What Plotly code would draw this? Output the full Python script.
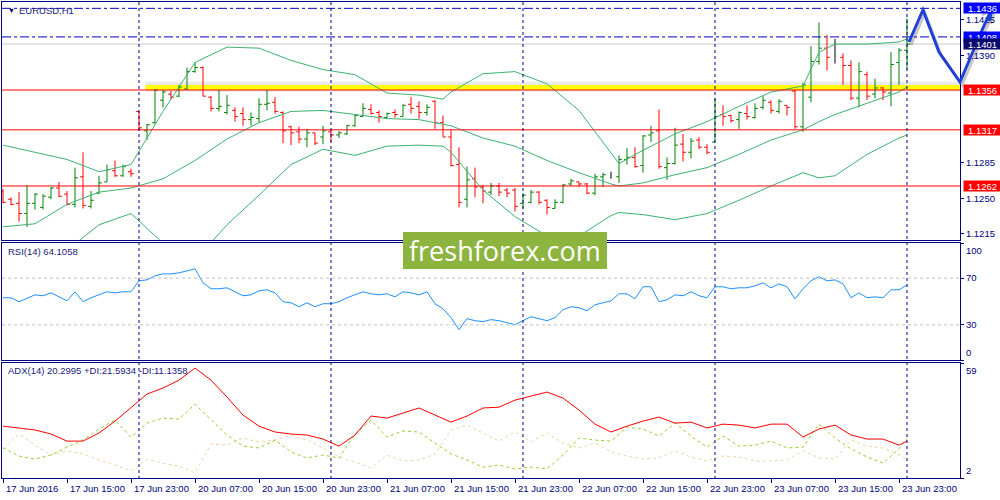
import plotly.graph_objects as go

# EURUSD H1 -- bar 0 is 17 Jun 2016 07:00, last bar is 24 Jun 00:00
opens = [1.1257, 1.1249, 1.1245, 1.1235, 1.1245, 1.1241, 1.1251, 1.1260, 1.1254, 1.1244,
         1.1271, 1.1242, 1.1255, 1.1266, 1.1277, 1.1272, 1.1276, 1.1335, 1.1316, 1.1324,
         1.1346, 1.1352, 1.1350, 1.1357, 1.1374, 1.1378, 1.1349, 1.1338, 1.1334, 1.1336,
         1.1333, 1.1327, 1.1328, 1.1342, 1.1344, 1.1334, 1.1320, 1.1315, 1.1308, 1.1314,
         1.1310, 1.1315, 1.1312, 1.1313, 1.1321, 1.1330, 1.1337, 1.1334, 1.1329, 1.1334,
         1.1330, 1.1342, 1.1340, 1.1334, 1.1345, 1.1324, 1.1310, 1.1283, 1.1249, 1.1269,
         1.1261, 1.1256, 1.1262, 1.1258, 1.1258, 1.1245, 1.1246, 1.1256, 1.1248, 1.1240,
         1.1246, 1.1264, 1.1266, 1.1264, 1.1255, 1.1271, 1.1272, 1.1271, 1.1288, 1.1290,
         1.1282, 1.1312, 1.1316, 1.1280, 1.1284, 1.1303, 1.1295, 1.1307, 1.1300, 1.1305,
         1.1332, 1.1331, 1.1327, 1.1333, 1.1329, 1.1339, 1.1344, 1.1335, 1.1341, 1.1355,
         1.1320, 1.1349, 1.1384, 1.1397, 1.1390, 1.1388, 1.1380, 1.1348, 1.1371, 1.1352,
         1.1358, 1.1353, 1.1383, 1.1395]
highs = [1.1259, 1.1251, 1.1256, 1.1263, 1.1255, 1.1254, 1.1261, 1.1266, 1.1257, 1.1280,
         1.1295, 1.1257, 1.1272, 1.1283, 1.1287, 1.1283, 1.1279, 1.1335, 1.1323, 1.1357,
         1.1356, 1.1355, 1.1361, 1.1378, 1.1383, 1.1379, 1.1350, 1.1356, 1.1351, 1.1339,
         1.1339, 1.1334, 1.1348, 1.1356, 1.1349, 1.1335, 1.1321, 1.1320, 1.1318, 1.1314,
         1.1321, 1.1317, 1.1316, 1.1322, 1.1332, 1.1343, 1.1342, 1.1336, 1.1334, 1.1337,
         1.1342, 1.1349, 1.1345, 1.1342, 1.1346, 1.1331, 1.1317, 1.1300, 1.1281, 1.1280,
         1.1263, 1.1265, 1.1265, 1.1260, 1.1260, 1.1255, 1.1258, 1.1257, 1.1249, 1.1249,
         1.1264, 1.1269, 1.1266, 1.1265, 1.1274, 1.1275, 1.1276, 1.1292, 1.1299, 1.1300,
         1.1312, 1.1321, 1.1337, 1.1290, 1.1319, 1.1313, 1.1309, 1.1310, 1.1303, 1.1348,
         1.1341, 1.1332, 1.1335, 1.1341, 1.1343, 1.1350, 1.1346, 1.1347, 1.1341, 1.1356,
         1.1363, 1.1399, 1.1422, 1.1410, 1.1406, 1.1392, 1.1385, 1.1383, 1.1374, 1.1367,
         1.1359, 1.1393, 1.1397, 1.1426]
lows = [1.1245, 1.1243, 1.1227, 1.1222, 1.1239, 1.1239, 1.1249, 1.1251, 1.1243, 1.1241,
        1.1240, 1.1240, 1.1254, 1.1266, 1.1271, 1.1271, 1.1271, 1.1316, 1.1307, 1.1323,
        1.1339, 1.1347, 1.1349, 1.1356, 1.1373, 1.1350, 1.1335, 1.1335, 1.1332, 1.1325,
        1.1321, 1.1321, 1.1324, 1.1336, 1.1333, 1.1304, 1.1302, 1.1304, 1.1300, 1.1302,
        1.1303, 1.1305, 1.1309, 1.1312, 1.1320, 1.1330, 1.1332, 1.1324, 1.1329, 1.1329,
        1.1330, 1.1333, 1.1328, 1.1331, 1.1318, 1.1310, 1.1281, 1.1241, 1.1241, 1.1251,
        1.1245, 1.1253, 1.1252, 1.1251, 1.1237, 1.1240, 1.1245, 1.1244, 1.1234, 1.1240,
        1.1245, 1.1262, 1.1261, 1.1254, 1.1253, 1.1261, 1.1269, 1.1265, 1.1283, 1.1280,
        1.1275, 1.1305, 1.1279, 1.1268, 1.1283, 1.1286, 1.1289, 1.1298, 1.1293, 1.1305,
        1.1321, 1.1324, 1.1318, 1.1327, 1.1328, 1.1337, 1.1333, 1.1333, 1.1331, 1.1318,
        1.1315, 1.1344, 1.1381, 1.1375, 1.1382, 1.1361, 1.1346, 1.1339, 1.1346, 1.1348,
        1.1346, 1.1340, 1.1361, 1.1376]
closes = [1.1246, 1.1244, 1.1235, 1.1245, 1.1254, 1.1252, 1.1260, 1.1252, 1.1244, 1.1270,
          1.1243, 1.1248, 1.1265, 1.1278, 1.1272, 1.1281, 1.1274, 1.1319, 1.1322, 1.1356,
          1.1354, 1.1349, 1.1359, 1.1374, 1.1378, 1.1350, 1.1338, 1.1340, 1.1341, 1.1330,
          1.1327, 1.1329, 1.1342, 1.1343, 1.1335, 1.1316, 1.1314, 1.1308, 1.1314, 1.1304,
          1.1316, 1.1312, 1.1314, 1.1321, 1.1331, 1.1338, 1.1333, 1.1330, 1.1333, 1.1332,
          1.1341, 1.1338, 1.1334, 1.1339, 1.1324, 1.1310, 1.1282, 1.1246, 1.1268, 1.1261,
          1.1257, 1.1262, 1.1256, 1.1255, 1.1242, 1.1253, 1.1256, 1.1246, 1.1241, 1.1246,
          1.1263, 1.1267, 1.1264, 1.1255, 1.1271, 1.1273, 1.1272, 1.1288, 1.1290, 1.1281,
          1.1311, 1.1314, 1.1281, 1.1284, 1.1302, 1.1295, 1.1306, 1.1300, 1.1295, 1.1330,
          1.1330, 1.1326, 1.1334, 1.1330, 1.1338, 1.1346, 1.1336, 1.1345, 1.1339, 1.1320,
          1.1361, 1.1384, 1.1397, 1.1388, 1.1390, 1.1380, 1.1348, 1.1374, 1.1350, 1.1358,
          1.1354, 1.1381, 1.1395, 1.1401]

# Bollinger bands at these bars
bb_bars = [0, 4, 8, 12, 16, 20, 24, 28, 32, 36, 40, 44, 48, 52, 55, 56, 60, 64, 68, 72,
           76, 77, 80, 84, 88, 92, 96, 100, 102, 104, 108, 112, 113]
bb_upper = [1.1302, 1.1295, 1.1288, 1.1276, 1.1283, 1.1335, 1.1383, 1.1398, 1.1397, 1.1385,
            1.1376, 1.1371, 1.1353, 1.1351, 1.1347, 1.1354, 1.1372, 1.1374, 1.1362, 1.1336,
            1.1295, 1.1284, 1.1297, 1.1313, 1.1325, 1.1340, 1.1354, 1.1360, 1.1393, 1.1401,
            1.1401, 1.1403, 1.1406]
bb_middle = [1.1222, 1.1225, 1.1244, 1.1256, 1.1260, 1.1269, 1.1287, 1.1308, 1.1324, 1.1335,
             1.1336, 1.1332, 1.1328, 1.1327, 1.1322, 1.1321, 1.1309, 1.1301, 1.1287, 1.1275,
             1.1264, 1.1262, 1.1265, 1.1273, 1.1280, 1.1293, 1.1307, 1.1317, 1.1325, 1.1332,
             1.1343, 1.1354, 1.1359]
bb_lower = [1.1141, 1.1154, 1.1199, 1.1224, 1.1235, 1.1206, 1.1189, 1.1224, 1.1253, 1.1283,
            1.1298, 1.1292, 1.1301, 1.1302, 1.1301, 1.1295, 1.1258, 1.1232, 1.1213, 1.1213,
            1.1233, 1.1236, 1.1234, 1.1229, 1.1235, 1.1248, 1.1262, 1.1275, 1.1270, 1.1272,
            1.1293, 1.1309, 1.1312]

rsi = [53.2, 53.2, 49.8, 53.0, 55.7, 54.9, 57.4, 54.0, 50.6, 58.3,
       49.8, 53.2, 55.7, 58.3, 57.4, 58.3, 58.3, 67.7, 68.5, 71.9,
       73.6, 73.6, 74.5, 76.2, 77.9, 66.0, 60.9, 60.9, 61.7, 58.3,
       54.9, 55.7, 59.1, 60.0, 57.4, 49.8, 48.9, 45.5, 48.9, 45.5,
       48.1, 48.1, 49.8, 53.2, 55.7, 58.3, 56.6, 55.7, 56.6, 54.0,
       58.3, 57.4, 55.7, 58.3, 48.1, 43.8, 36.2, 26.0, 35.3, 33.6,
       32.8, 34.5, 33.6, 31.9, 30.2, 33.6, 37.0, 35.3, 33.6, 36.2,
       43.0, 45.5, 44.7, 42.1, 47.2, 48.9, 50.6, 56.6, 56.6, 52.3,
       62.6, 62.6, 49.8, 51.5, 55.7, 54.9, 58.3, 54.9, 53.2, 62.6,
       62.6, 60.9, 61.7, 61.7, 63.4, 66.0, 61.7, 65.1, 62.6, 52.3,
       60.9, 67.7, 71.1, 67.7, 68.5, 65.1, 53.2, 57.4, 53.2, 54.0,
       53.2, 60.0, 60.0, 64.1058]

# ADX(14) read every second bar
adx_bars = list(range(0, 113, 2)) + [113]
adx = [27.7, 26.8, 25.8, 23.8, 20.3, 20.3, 24.3, 30.2, 36.7, 43.6,
       46.6, 50.5, 56.5, 50.5, 42.1, 33.2, 27.7, 24.8, 23.8, 23.3,
       21.3, 17.8, 23.3, 32.7, 31.7, 34.2, 36.7, 33.2, 29.7, 32.7,
       36.7, 37.1, 40.6, 42.6, 44.6, 41.6, 35.7, 28.7, 24.8, 27.7,
       30.2, 32.2, 29.2, 29.7, 26.8, 28.7, 28.2, 26.8, 28.7, 28.7,
       22.3, 26.3, 28.2, 23.3, 21.3, 21.3, 18.3, 20.2995]
plus_di = [16.9, 12.9, 11.4, 13.4, 17.3, 20.8, 26.3, 30.7, 22.3, 29.2,
           31.7, 31.2, 38.6, 31.2, 23.3, 17.8, 16.9, 20.8, 14.9, 11.9,
           13.4, 11.9, 23.8, 30.7, 22.3, 25.3, 24.8, 19.3, 13.9, 10.9,
           7.4, 8.4, 6.5, 7.4, 6.5, 13.4, 21.8, 20.8, 20.3, 27.2,
           26.3, 22.8, 29.2, 22.8, 17.3, 22.8, 17.8, 18.3, 20.3, 16.9,
           17.3, 28.7, 21.8, 16.4, 12.4, 9.4, 16.4, 21.5934]
minus_di = [16.4, 23.8, 18.3, 13.4, 15.4, 13.9, 10.9, 8.4, 5.5, 11.4,
            9.4, 7.9, 4.5, 18.8, 18.3, 21.8, 19.8, 20.8, 23.3, 20.8,
            16.9, 12.4, 9.9, 7.0, 13.4, 10.4, 10.9, 13.9, 25.8, 28.2,
            24.3, 20.3, 24.8, 19.8, 24.3, 19.3, 16.9, 19.3, 14.9, 12.9,
            11.4, 11.9, 15.4, 12.4, 10.4, 12.9, 12.4, 10.4, 10.4, 10.9,
            15.4, 11.9, 11.4, 20.8, 17.8, 16.9, 13.4, 11.1358]

red_levels = [1.1356, 1.1317, 1.1262]
blue_levels = [1.1436, 1.1408]
bid_price = 1.1401
zone_level = 1.1356
zone_start_bar = 18

day_starts = [17, 41, 65, 89, 113]
time_ticks = [0, 8, 16, 24, 32, 40, 48, 56, 64, 72, 80, 88, 96, 104, 112]
time_labels = ["17 Jun 2016", "17 Jun 15:00", "17 Jun 23:00", "20 Jun 07:00",
               "20 Jun 15:00", "20 Jun 23:00", "21 Jun 07:00", "21 Jun 15:00",
               "21 Jun 23:00", "22 Jun 07:00", "22 Jun 15:00", "22 Jun 23:00",
               "23 Jun 07:00", "23 Jun 15:00", "23 Jun 23:00"]
price_ticks = [1.1215, 1.1250, 1.1285, 1.1390, 1.1425]

# hand drawn forecast arrow (screen pixels)
arrow_px = [(909, 42), (923, 10), (939, 52), (960, 82), (983, 28), (993, 6)]
arrow_head_px = [(980, 12), (993, 6), (989, 21)]

NAVY = "#000080"
FONT = "Liberation Sans"
X_RANGE = [-0.125, 119.625]
X_DOM = [0.002, 0.96]


def paper(x, y):
    return x / 1000, 1 - y / 500


def path_of(points, dx=0, dy=0):
    parts = []
    for k, (x, y) in enumerate(points):
        px, py = paper(x + dx, y + dy)
        parts.append(("M" if k == 0 else "L") + f"{px:.4f},{py:.4f}")
    return " ".join(parts)


fig = go.Figure()

# bollinger bands
for band in (bb_upper, bb_middle, bb_lower):
    fig.add_trace(go.Scatter(x=bb_bars, y=band, mode="lines",
                             line=dict(color="#3CB371", width=1),
                             xaxis="x", yaxis="y", hoverinfo="skip"))

# bars: up green, down red, doji black
bars = list(range(len(opens)))
groups = [
    ([i for i in bars if closes[i] > opens[i]], "#008000"),
    ([i for i in bars if closes[i] < opens[i]], "#FF0000"),
    ([i for i in bars if closes[i] == opens[i]], "#000000"),
]
for idx, color in groups:
    step = min(b - a for a, b in zip(idx, idx[1:])) if len(idx) > 1 else 1
    fig.add_trace(go.Ohlc(
        x=idx,
        open=[opens[i] for i in idx], high=[highs[i] for i in idx],
        low=[lows[i] for i in idx], close=[closes[i] for i in idx],
        increasing_line_color=color, decreasing_line_color=color,
        line_width=1, tickwidth=min(0.5, 0.36 / step),
        xaxis="x", yaxis="y", hoverinfo="skip"))

# RSI
fig.add_trace(go.Scatter(x=bars, y=rsi, mode="lines",
                         line=dict(color="#1E90FF", width=1),
                         xaxis="x2", yaxis="y2", hoverinfo="skip"))

# ADX panel
fig.add_trace(go.Scatter(x=adx_bars, y=minus_di, mode="lines",
                         line=dict(color="#F2D3A6", width=1, dash="dot"),
                         xaxis="x3", yaxis="y3", hoverinfo="skip"))
fig.add_trace(go.Scatter(x=adx_bars, y=plus_di, mode="lines",
                         line=dict(color="#9ACD32", width=1, dash="3px,3px"),
                         xaxis="x3", yaxis="y3", hoverinfo="skip"))
fig.add_trace(go.Scatter(x=adx_bars, y=adx, mode="lines",
                         line=dict(color="#FF0000", width=1),
                         xaxis="x3", yaxis="y3", hoverinfo="skip"))

shapes = []

# yellow zone with soft shadow
shapes.append(dict(type="rect", xref="x", yref="y", x0=zone_start_bar - 0.2, x1=X_RANGE[1],
                   y0=zone_level - 0.00018, y1=zone_level + 0.0008,
                   fillcolor="rgba(120,120,120,0.16)", line_width=0, layer="below"))
shapes.append(dict(type="rect", xref="x", yref="y", x0=zone_start_bar - 0.2, x1=X_RANGE[1],
                   y0=zone_level, y1=zone_level + 0.0005,
                   fillcolor="#FFFF00", line_width=0, layer="below"))

for lvl in red_levels:
    shapes.append(dict(type="line", xref="paper", yref="y", x0=X_DOM[0], x1=X_DOM[1],
                       y0=lvl, y1=lvl, line=dict(color="#FF0000", width=1)))
for lvl in blue_levels:
    shapes.append(dict(type="line", xref="paper", yref="y", x0=X_DOM[0], x1=X_DOM[1],
                       y0=lvl, y1=lvl, line=dict(color="#0000C8", width=1, dash="dashdot")))
shapes.append(dict(type="line", xref="paper", yref="y", x0=X_DOM[0], x1=X_DOM[1],
                   y0=bid_price, y1=bid_price, line=dict(color="#C8C8C8", width=1),
                   layer="below"))

for lvl in (30, 70):
    shapes.append(dict(type="line", xref="paper", yref="y2", x0=X_DOM[0], x1=X_DOM[1],
                       y0=lvl, y1=lvl, line=dict(color="#C0C0C0", width=1, dash="3px,3px")))

for b in day_starts:
    shapes.append(dict(type="line", xref="x", yref="paper", x0=b, x1=b,
                       y0=0.042, y1=0.996, line=dict(color=NAVY, width=1, dash="3px,3px")))

# watermark
wx0, wy0 = paper(403, 269)
wx1, wy1 = paper(607, 232)
shapes.append(dict(type="rect", xref="paper", yref="paper", x0=wx0, x1=wx1, y0=wy0, y1=wy1,
                   fillcolor="#8DB43F", line_width=0, layer="above"))

# forecast arrow with shadow
shapes.append(dict(type="path", xref="paper", yref="paper",
                   path=path_of(arrow_px, 2, 3) + " " + path_of(arrow_head_px, 2, 3),
                   line=dict(color="rgba(0,0,0,0.22)", width=3)))
shapes.append(dict(type="path", xref="paper", yref="paper",
                   path=path_of(arrow_px) + " " + path_of(arrow_head_px),
                   line=dict(color="#1F3FD8", width=3)))

annotations = []

# chart captions
annotations.append(dict(xref="paper", yref="paper", x=paper(6, 0)[0], y=paper(0, 10)[1],
                        text="▼", showarrow=False, xanchor="left", yanchor="middle",
                        font=dict(family=FONT, size=7, color=NAVY)))
annotations.append(dict(xref="paper", yref="paper", x=paper(17, 0)[0], y=paper(0, 10)[1],
                        text="EURUSD,H1", showarrow=False, xanchor="left", yanchor="middle",
                        font=dict(family=FONT, size=9.5, color="#202080")))
annotations.append(dict(xref="paper", yref="paper", x=paper(6, 0)[0], y=paper(0, 251)[1],
                        text="RSI(14) 64.1058", showarrow=False, xanchor="left",
                        yanchor="middle", font=dict(family=FONT, size=9.5, color="#202080")))
annotations.append(dict(xref="paper", yref="paper", x=paper(6, 0)[0], y=paper(0, 370)[1],
                        text="ADX(14) 20.2995 +DI:21.5934 -DI:11.1358", showarrow=False,
                        xanchor="left", yanchor="middle",
                        font=dict(family=FONT, size=9.5, color="#202080")))

# coloured price flags on the right scale
price_flags = [(1.1436, "#0000FF"), (1.1408, "#0000FF"), (bid_price, "#0B0B6E"),
               (1.1356, "#FF0000"), (1.1317, "#FF0000"), (1.1262, "#FF0000")]
for val, bg in price_flags:
    annotations.append(dict(xref="paper", yref="y", x=0.9625, y=val, text=f"{val:.4f}",
                            showarrow=False, xanchor="left", yanchor="middle",
                            bgcolor=bg, width=37, height=10, borderpad=0,
                            font=dict(family=FONT, size=9.5, color="#FFFFFF")))

# min / max labels of the indicator windows
for ref, val, anchor in (("y2", 100, "top"), ("y2", 0, "bottom"),
                         ("y3", 59, "top"), ("y3", 2, "bottom")):
    annotations.append(dict(xref="paper", yref=ref, x=0.9635, y=val, text=str(val),
                            showarrow=False, xanchor="left", yanchor=anchor,
                            font=dict(family=FONT, size=9.5, color=NAVY)))

# time scale
for b, lab in zip(time_ticks, time_labels):
    annotations.append(dict(xref="x3", yref="paper", x=b, y=paper(0, 488)[1], text=lab,
                            showarrow=False, xanchor="left", yanchor="middle", xshift=1,
                            font=dict(family=FONT, size=9.5, color=NAVY)))

annotations.append(dict(xref="paper", yref="paper", x=paper(505, 0)[0], y=paper(0, 250)[1],
                        text="freshforex.com", showarrow=False,
                        font=dict(family="Open Sans", size=27, color="#FFFFFF")))

axis_common = dict(range=X_RANGE, domain=X_DOM, showgrid=False, zeroline=False,
                   showline=True, mirror=True, linecolor=NAVY, linewidth=1,
                   showticklabels=False)
y_common = dict(side="right", showgrid=False, zeroline=False, showline=True, mirror=True,
                linecolor=NAVY, linewidth=1, ticks="outside", ticklen=3, tickcolor=NAVY,
                tickfont=dict(family=FONT, size=9.5, color=NAVY))

fig.update_layout(
    width=1000, height=500,
    margin=dict(l=0, r=0, t=0, b=0),
    paper_bgcolor="white", plot_bgcolor="white",
    showlegend=False, hovermode=False,
    xaxis=dict(axis_common, anchor="y", rangeslider=dict(visible=False)),
    xaxis2=dict(axis_common, anchor="y2", matches="x"),
    xaxis3=dict(axis_common, anchor="y3", matches="x", ticks="outside", ticklen=4,
                tickcolor=NAVY, tickvals=time_ticks),
    yaxis=dict(y_common, anchor="x", domain=[0.52, 0.996], range=[1.12091, 1.14422],
               tickvals=price_ticks, ticktext=[f"{v:.4f}" for v in price_ticks]),
    yaxis2=dict(y_common, anchor="x2", domain=[0.28, 0.514], range=[0, 100],
                tickvals=[0, 30, 70, 100], ticktext=["", "30", "70", ""]),
    yaxis3=dict(y_common, anchor="x3", domain=[0.044, 0.274], range=[2, 59],
                tickvals=[2, 59], ticktext=["", ""]),
    shapes=shapes,
    annotations=annotations,
)

# page body margin would shift the 1000x500 figure off the window
fig.write_html("out.html", config={"displayModeBar": False},
               post_script="document.body.style.margin='0';")
